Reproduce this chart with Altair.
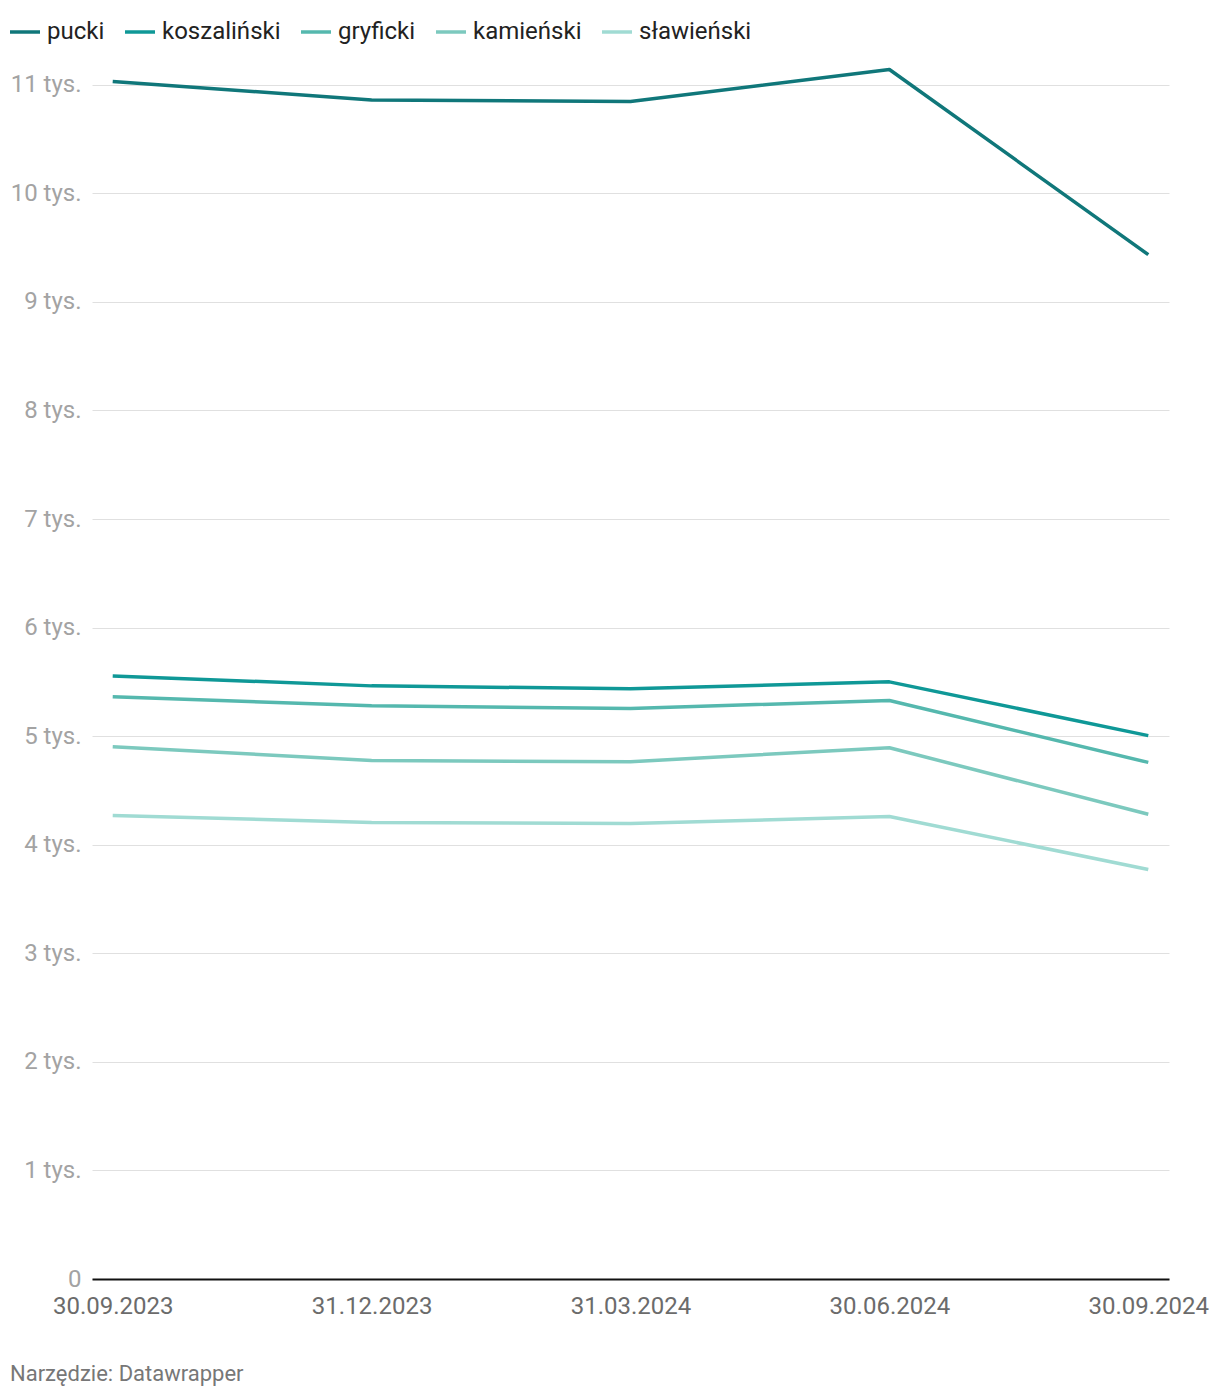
import altair as alt
import pandas as pd

dates = ["30.09.2023", "31.12.2023", "31.03.2024", "30.06.2024", "30.09.2024"]
series = ["pucki", "koszaliński", "gryficki", "kamieński", "sławieński"]
colors = ["#10777a", "#0f9897", "#55b8ae", "#7cc9be", "#a0dbd3"]

pucki = [11030, 10860, 10845, 11140, 9435]
koszalinski = [5555, 5463, 5437, 5500, 5005]
gryficki = [5362, 5280, 5255, 5328, 4758]
kamienski = [4903, 4775, 4765, 4893, 4280]
slawienski = [4270, 4205, 4195, 4260, 3772]

values = [pucki, koszalinski, gryficki, kamienski, slawienski]
rows = []
for name, vals in zip(series, values):
    for d, v in zip(dates, vals):
        rows.append({"data": d, "powiat": name, "wartosc": v})
df = pd.DataFrame(rows)

FONT = "Roboto"

chart = alt.Chart(df).mark_line(strokeWidth=3.5, strokeJoin="round").encode(
    x=alt.X("data:O", sort=dates, title=None,
            scale=alt.Scale(type="point", padding=0.08),
            axis=alt.Axis(labelAngle=0, labelFontSize=24, labelColor="#6b6b6b",
                          labelFont=FONT, domainColor="#111111", domainWidth=2,
                          ticks=False, labelPadding=15, grid=False)),
    y=alt.Y("wartosc:Q", title=None,
            scale=alt.Scale(domain=[0, 11200], nice=False),
            axis=alt.Axis(values=list(range(0, 12000, 1000)),
                          labelExpr="datum.value == 0 ? '0' : (datum.value / 1000) + ' tys.'",
                          labelFontSize=24, labelColor="#a3a3a3", labelFont=FONT,
                          domain=False, ticks=False, labelPadding=11,
                          gridColor="#e0e0e0", gridWidth=1)),
    color=alt.Color("powiat:N", sort=series,
                    scale=alt.Scale(domain=series, range=colors),
                    legend=alt.Legend(title=None, orient="none", direction="horizontal",
                                      legendX=-84, legendY=-48, columns=5,
                                      symbolType="stroke", symbolSize=900,
                                      symbolStrokeWidth=3.5, labelFontSize=24,
                                      labelFont=FONT, labelColor="#222222",
                                      labelOffset=5, columnPadding=13,
                                      labelLimit=300)),
).properties(
    width=1077,
    height=1216,
    title=alt.TitleParams(text="Narzędzie: Datawrapper", orient="bottom",
                          anchor="start", frame="bounds", fontSize=22,
                          font=FONT, color="#777777", fontWeight="normal",
                          offset=46, dx=2),
    padding={"left": 84, "top": 55, "right": 43, "bottom": 120},
    autosize=alt.AutoSizeParams(type="none"),
).configure_view(stroke=None)

chart.save("out.html", embed_options={"renderer": "svg", "actions": False})
